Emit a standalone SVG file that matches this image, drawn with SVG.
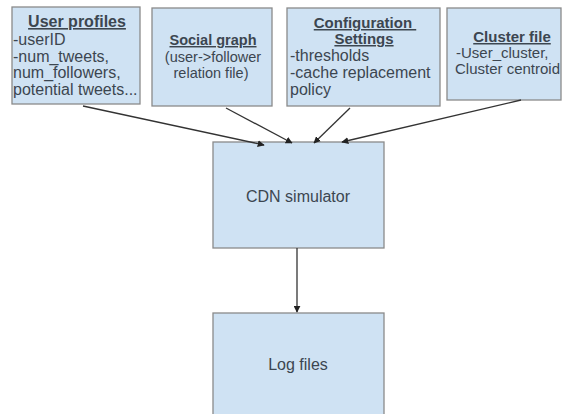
<svg xmlns="http://www.w3.org/2000/svg" width="564" height="414" viewBox="0 0 564 414">
  <style>
    .box { fill: #cfe2f3; stroke: #8a8a8a; stroke-width: 1.3; }
    .t { font-family: "Liberation Sans", Arial, sans-serif; font-size: 16px; fill: #3c4650; }
    .h { font-weight: bold; text-decoration: underline; }
    .c { text-anchor: middle; }
    .s145 { font-size: 14.5px; }
    .s15 { font-size: 15px; }
    .edge { stroke: #333; stroke-width: 1.3; fill: none; marker-end: url(#arrow); }
  </style>
  <defs>
    <marker id="arrow" viewBox="0 0 10 10" refX="9" refY="5" markerWidth="7" markerHeight="7" orient="auto" markerUnits="userSpaceOnUse">
      <path d="M0,0 L10,5 L0,10 z" fill="#222"/>
    </marker>
  </defs>
  <rect width="564" height="414" fill="#ffffff"/>

  <g id="user-profiles">
    <rect class="box" x="12" y="7" width="128" height="97"/>
    <text class="t h c" x="77" y="27">User profiles</text>
    <text class="t" x="13" y="45">-userID</text>
    <text class="t" x="13" y="62">-num_tweets,</text>
    <text class="t" x="13" y="78">num_followers,</text>
    <text class="t" x="13" y="95">potential tweets...</text>
  </g>

  <g id="social-graph">
    <rect class="box" x="152" y="8" width="120" height="98"/>
    <text class="t s145 h c" x="213" y="45">Social graph</text>
    <text class="t s145 c" x="213" y="62">(user-&gt;follower</text>
    <text class="t s145 c" x="211" y="78">relation file)</text>
  </g>

  <g id="configuration-settings">
    <rect class="box" x="287" y="8" width="153" height="98"/>
    <text class="t s15 h c" x="365" y="28" xml:space="preserve">Configuration </text>
    <text class="t s15 h c" x="364" y="44">Settings</text>
    <text class="t" x="290" y="61">-thresholds</text>
    <text class="t" x="290" y="78">-cache replacement</text>
    <text class="t" x="290" y="95">policy</text>
  </g>

  <g id="cluster-file">
    <rect class="box" x="447" y="8" width="114" height="92"/>
    <text class="t s15 h c" x="512" y="42">Cluster file</text>
    <text class="t s15" x="456" y="58">-User_cluster,</text>
    <text class="t s15" x="455" y="74">Cluster centroid</text>
  </g>

  <g id="cdn-simulator">
    <rect class="box" x="213" y="142" width="171" height="106"/>
    <text class="t c" x="298" y="202">CDN simulator</text>
  </g>

  <g id="log-files">
    <rect class="box" x="213" y="313" width="171" height="110"/>
    <text class="t c" x="298" y="370">Log files</text>
  </g>

  <g id="connectors">
    <line class="edge" x1="83" y1="106" x2="264" y2="145"/>
    <line class="edge" x1="226" y1="108" x2="292" y2="143"/>
    <line class="edge" x1="350" y1="108" x2="314" y2="143"/>
    <line class="edge" x1="521" y1="100" x2="342" y2="142"/>
    <line class="edge" x1="297" y1="248" x2="297" y2="312"/>
  </g>
</svg>
